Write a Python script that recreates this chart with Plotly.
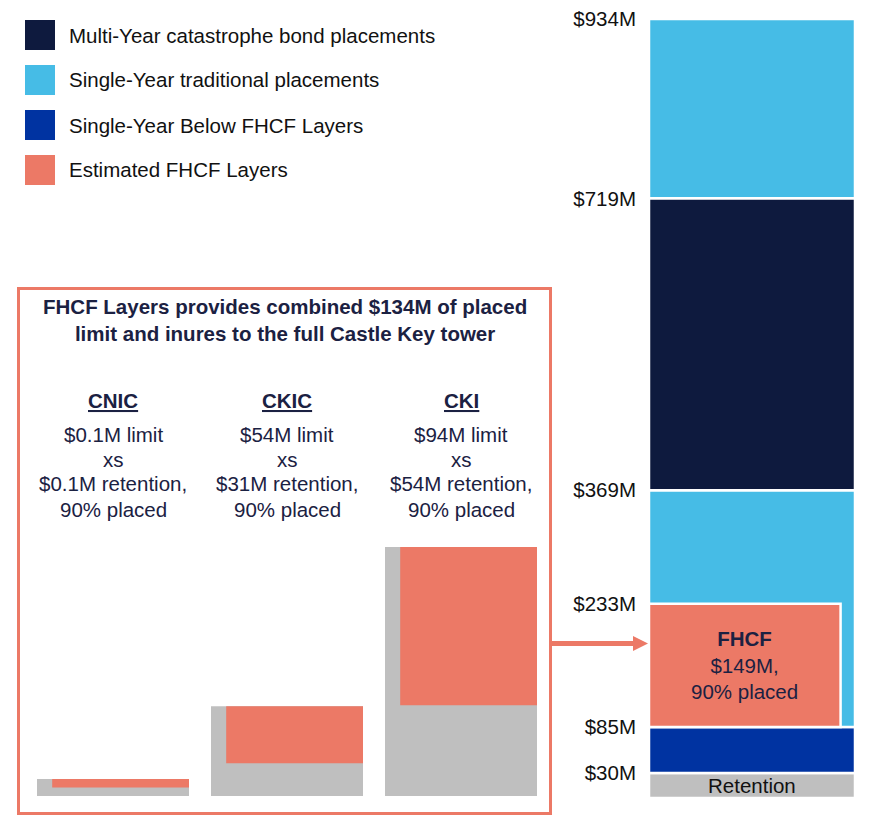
import plotly.graph_objects as go

# page body has an 8px margin; the figure is sized to fit the 878x828 window
OFF = 8
W, H = 878 - OFF, 828 - OFF

# ---------------- data ----------------
tick_values = [30, 85, 233, 369, 719, 934]
tick_labels = ["$30M", "$85M", "$233M", "$369M", "$719M", "$934M"]

tower_layers = ["Retention", "Single-Year Below FHCF Layers", "Single-Year traditional placements",
                "Estimated FHCF Layers", "Multi-Year catastrophe bond placements",
                "Single-Year traditional placements"]
tower_base = [0, 30, 85, 85, 369, 719]
tower_top = [30, 85, 369, 233, 719, 934]

legend_names = ["Multi-Year catastrophe bond placements", "Single-Year traditional placements",
                "Single-Year Below FHCF Layers", "Estimated FHCF Layers"]

fhcf_label = ["<b>FHCF</b>", "$149M,", "90% placed"]
retention_label = "Retention"

entities = ["CNIC", "CKIC", "CKI"]
entity_limit = [0.1, 54, 94]
entity_retention = [0.1, 31, 54]
entity_placed = [0.9, 0.9, 0.9]
entity_limit_text = ["$0.1M limit", "$54M limit", "$94M limit"]
entity_ret_text = ["$0.1M retention,", "$31M retention,", "$54M retention,"]
entity_placed_text = ["90% placed", "90% placed", "90% placed"]

box_title = "FHCF Layers provides combined $134M of placed<br>limit and inures to the full Castle Key tower"

# ---------------- styles ----------------
NAVY = "#0E1A3E"
LIGHT = "#46BCE6"
DBLUE = "#0033A1"
SALMON = "#EC7966"
GRAY = "#BFBFBF"
TXT_NAVY = "#1B2142"
TXT = "#111111"
FONT = "Arial, Liberation Sans, sans-serif"
FS = 20.5

color_map = {
    "Retention": GRAY,
    "Single-Year Below FHCF Layers": DBLUE,
    "Single-Year traditional placements": LIGHT,
    "Estimated FHCF Layers": SALMON,
    "Multi-Year catastrophe bond placements": NAVY,
}
layer_width = [1, 1, 1, 0.93, 1, 1]


def px(x):
    return (x - OFF) / W


def py(y):
    return 1 - (y - OFF) / H


fig = go.Figure()

# tower
for name, b, t, w in zip(tower_layers, tower_base, tower_top, layer_width):
    fig.add_trace(go.Bar(
        x=[0], y=[t - b], base=[b], width=[w], offset=-0.5, name=name,
        marker=dict(color=color_map[name], line=dict(color="white", width=2.5)),
        xaxis="x", yaxis="y", showlegend=False, hoverinfo="skip"))

# mini charts
for i, (ent, lim, ret, pl) in enumerate(zip(entities, entity_limit, entity_retention, entity_placed)):
    xa, ya = f"x{i + 2}", f"y{i + 2}"
    fig.add_trace(go.Bar(x=[0], y=[ret + lim], base=[0], width=[1], offset=-0.5,
                         marker=dict(color=GRAY, line=dict(width=0)),
                         xaxis=xa, yaxis=ya, showlegend=False, hoverinfo="skip"))
    fig.add_trace(go.Bar(x=[0], y=[lim], base=[ret], width=[pl], offset=0.5 - pl,
                         marker=dict(color=SALMON, line=dict(width=0)),
                         xaxis=xa, yaxis=ya, showlegend=False, hoverinfo="skip"))

layout = dict(
    width=W, height=H, margin=dict(l=0, r=0, t=0, b=0, pad=0), autosize=False,
    paper_bgcolor="white", plot_bgcolor="white",
    barmode="overlay", font=dict(family=FONT, size=FS, color=TXT),
    xaxis=dict(domain=[px(649), px(855)], range=[-0.5, 0.5], visible=False, fixedrange=True,
               automargin=False),
    yaxis=dict(domain=[py(798), py(19)], range=[0, 934], tickvals=tick_values, ticktext=tick_labels,
               showgrid=False, zeroline=False, showline=False, ticks="", ticklabelstandoff=12,
               ticklabeloverflow="allow",
               tickfont=dict(size=FS, color=TXT), fixedrange=True, automargin=False),
)

mini_x = [(37, 189), (211, 363), (385, 537)]
mini_range = [2.93, 236, 148]
for i in range(3):
    layout[f"xaxis{i + 2}"] = dict(domain=[px(mini_x[i][0]), px(mini_x[i][1])], range=[-0.5, 0.5],
                                   visible=False, anchor=f"y{i + 2}", fixedrange=True, automargin=False)
    layout[f"yaxis{i + 2}"] = dict(domain=[py(796), py(547)], range=[0, mini_range[i]],
                                   visible=False, anchor=f"x{i + 2}", fixedrange=True, automargin=False)
fig.update_layout(**layout)

shapes = []
annotations = []

# legend
legend_rows = [35, 80, 125, 170]
for name, yc in zip(legend_names, legend_rows):
    shapes.append(dict(type="rect", xref="paper", yref="paper",
                       x0=px(25), x1=px(55), y0=py(yc + 15), y1=py(yc - 15),
                       fillcolor=color_map[name], line=dict(width=0)))
    annotations.append(dict(text=name, xref="paper", yref="paper", x=px(67), y=py(yc),
                            xanchor="left", yanchor="middle", showarrow=False,
                            font=dict(size=FS, color=TXT)))

# box
shapes.append(dict(type="rect", xref="paper", yref="paper",
                   x0=px(18.5), x1=px(550.5), y0=py(813.5), y1=py(288.5),
                   line=dict(color=SALMON, width=3), fillcolor="rgba(0,0,0,0)"))
# arrow
shapes.append(dict(type="line", xref="paper", yref="paper",
                   x0=px(552), x1=px(635), y0=py(643.5), y1=py(643.5),
                   line=dict(color=SALMON, width=5)))
shapes.append(dict(type="path", xref="paper", yref="paper",
                   path=f"M {px(633)} {py(636)} L {px(648)} {py(643.5)} L {px(633)} {py(651)} Z",
                   fillcolor=SALMON, line=dict(width=0)))

annotations.append(dict(text="<b>" + box_title + "</b>", xref="paper", yref="paper",
                        x=px(284.5), y=py(320), xanchor="center", yanchor="middle", showarrow=False,
                        font=dict(size=FS, color=TXT_NAVY)))

for i, ent in enumerate(entities):
    cx = px((mini_x[i][0] + mini_x[i][1]) / 2)
    lines = [("<b><u>" + ent + "</u></b>", 400), (entity_limit_text[i], 434), ("xs", 459),
             (entity_ret_text[i], 484), (entity_placed_text[i], 509)]
    for txt, yc in lines:
        annotations.append(dict(text=txt, xref="paper", yref="paper", x=cx, y=py(yc),
                                xanchor="center", yanchor="middle", showarrow=False,
                                font=dict(size=FS, color=TXT_NAVY)))

# tower labels
fhcf_w = layer_width[3]
annotations.append(dict(text="<br>".join(fhcf_label), xref="x", yref="y",
                        x=-0.5 + fhcf_w / 2, y=(tower_base[3] + tower_top[3]) / 2,
                        xanchor="center", yanchor="middle", showarrow=False,
                        font=dict(size=FS, color=TXT_NAVY)))
annotations.append(dict(text=retention_label, xref="x", yref="y",
                        x=0, y=(tower_base[0] + tower_top[0]) / 2,
                        xanchor="center", yanchor="middle", showarrow=False,
                        font=dict(size=FS, color=TXT)))

fig.update_layout(shapes=shapes, annotations=annotations)
fig.write_html("out.html", config={"displayModeBar": False})
